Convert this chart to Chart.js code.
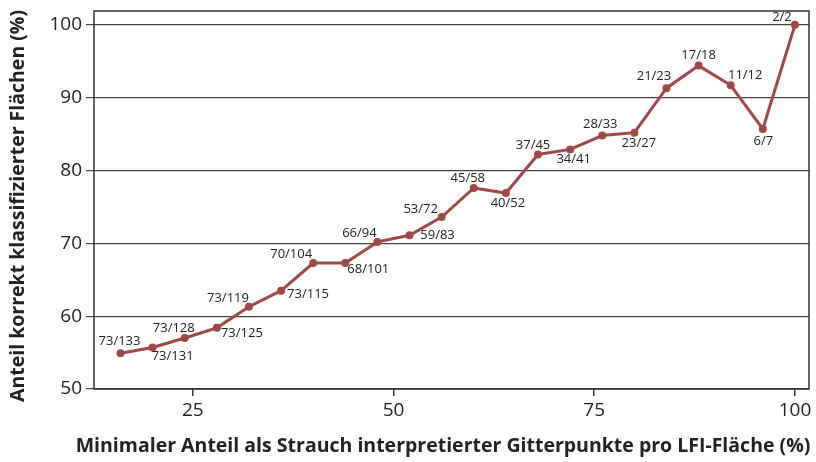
<!DOCTYPE html>
<html>
<head>
<meta charset="utf-8">
<script src="https://cdn.jsdelivr.net/npm/chart.js@4/dist/chart.umd.min.js"></script>
<style>
  html, body { margin: 0; padding: 0; background: #fff; }
  #wrap { width: 816px; height: 462px; }
</style>
</head>
<body>
<div id="wrap"><canvas id="chart" width="816" height="462"></canvas></div>
<script>
  // ===== Data =====
  const shareX = [16, 20, 24, 28, 32, 36, 40, 44, 48, 52, 56, 60, 64, 68, 72, 76, 80, 84, 88, 92, 96, 100];
  const correctPct = [54.9, 55.7, 57.0, 58.4, 61.3, 63.5, 67.3, 67.3, 70.2, 71.1, 73.6, 77.6, 76.9, 82.2, 82.9, 84.8, 85.2, 91.3, 94.4, 91.7, 85.7, 100];
  const countLabels = ['73/133', '73/131', '73/128', '73/125', '73/119', '73/115', '70/104', '68/101', '66/94', '59/83', '53/72',
    '45/58', '40/52', '37/45', '34/41', '28/33', '23/27', '21/23', '17/18', '11/12', '6/7', '2/2'];
  const xTicks = [25, 50, 75, 100];
  const yTicks = [50, 60, 70, 80, 90, 100];

  const xTitle = 'Minimaler Anteil als Strauch interpretierter Gitterpunkte pro LFI-Fläche (%)';
  const yTitle = 'Anteil korrekt klassifizierter Flächen (%)';

  // label centre offset from its point, in px
  const labelOffset = [
    [-1, -12], [20, 9], [-11, -10], [25, 5.5], [-21, -8], [27, 4], [-22, -8.5], [23, 6.5],
    [-18, -9], [28, 0], [-21, -8], [-6, -10], [2, 10], [-5, -9], [3.5, 10], [-2, -11.5],
    [4.5, 11], [-12.5, -12], [0, -10], [14.5, -9.5], [0.5, 12], [-13, -7.5]
  ];

  const FONT = '"Open Sans", "Noto Sans", sans-serif';
  const LINE_COLOR = '#9e4848';

  // ===== Plugins =====
  const frameAndText = {
    id: 'frameAndText',
    afterDatasetsDraw(chart) {
      const { ctx } = chart;
      const meta = chart.getDatasetMeta(0);
      ctx.save();
      ctx.font = '13px ' + FONT;
      ctx.fillStyle = '#222';
      ctx.textAlign = 'center';
      ctx.textBaseline = 'middle';
      meta.data.forEach((pt, i) => {
        const [dx, dy] = labelOffset[i];
        ctx.fillText(countLabels[i], pt.x + dx, pt.y + dy);
      });
      ctx.restore();
    },
    afterDraw(chart) {
      const { ctx, chartArea: a } = chart;
      ctx.save();
      ctx.strokeStyle = '#333';
      ctx.lineWidth = 1.5;
      ctx.strokeRect(a.left, a.top, a.right - a.left, a.bottom - a.top);

      ctx.fillStyle = '#222';
      ctx.font = 'bold 19.5px ' + FONT;
      ctx.textAlign = 'center';
      ctx.textBaseline = 'middle';
      ctx.fillText(xTitle, 443, 446);

      ctx.translate(18, 206);
      ctx.rotate(-Math.PI / 2);
      ctx.fillText(yTitle, 0, 0);
      ctx.restore();
    }
  };

  // ===== Chart =====
  new Chart(document.getElementById('chart'), {
    type: 'line',
    data: {
      datasets: [{
        data: shareX.map((x, i) => ({ x, y: correctPct[i] })),
        borderColor: LINE_COLOR,
        backgroundColor: LINE_COLOR,
        borderWidth: 3,
        pointRadius: 2.5,
        pointHoverRadius: 2.5,
        tension: 0
      }]
    },
    options: {
      responsive: false,
      animation: false,
      layout: { padding: { top: 11, right: 7, left: 0, bottom: 0 } },
      plugins: { legend: { display: false }, tooltip: { enabled: false } },
      scales: {
        x: {
          type: 'linear',
          min: 12.7,
          max: 101.75,
          afterBuildTicks: s => { s.ticks = xTicks.map(v => ({ value: v })); },
          afterFit: s => { s.height = 73; s.paddingLeft = 0; s.paddingRight = 0; },
          grid: { drawOnChartArea: false, tickLength: 7, color: '#333', lineWidth: 1.5 },
          border: { display: false },
          ticks: { font: { family: FONT, size: 19 }, color: '#222', padding: 3 }
        },
        y: {
          min: 50,
          max: 101.9,
          afterBuildTicks: s => { s.ticks = yTicks.map(v => ({ value: v })); },
          afterFit: s => { s.width = 94; s.paddingTop = 0; s.paddingBottom = 0; },
          grid: { tickLength: 8, color: '#444', lineWidth: 1.2 },
          border: { display: false },
          ticks: { font: { family: FONT, size: 19 }, color: '#222', padding: 4 }
        }
      }
    },
    plugins: [frameAndText]
  });
</script>
</body>
</html>
